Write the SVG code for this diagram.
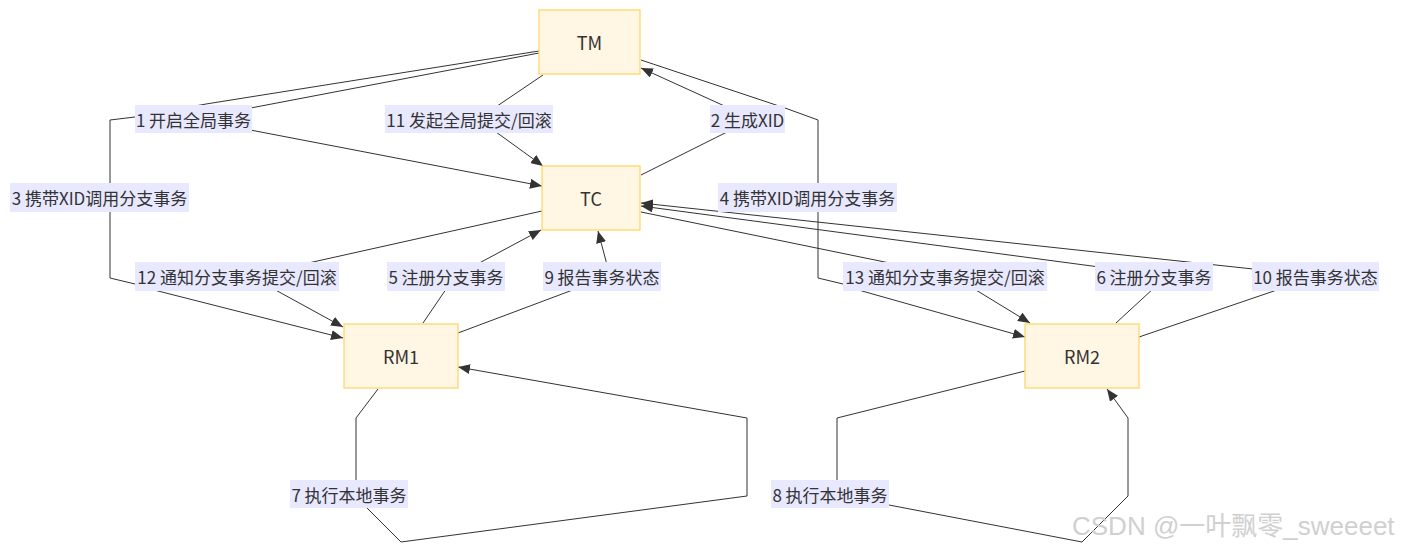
<svg xmlns="http://www.w3.org/2000/svg" width="1404" height="552" viewBox="0 0 1404 552">
<style>
  .node rect { fill: #fff6e3; stroke: #fdd868; stroke-width: 1.3; }
  .node text { font-family: "Noto Sans CJK SC", "Noto Sans", sans-serif; font-size: 18px; fill: #333; text-anchor: middle; dominant-baseline: central; }
  .edge { fill: none; stroke: #333; stroke-width: 1; }
  .lbl rect { fill: #e8e8ff; }
  .lbl text { font-family: "Noto Sans CJK SC", "Noto Sans", sans-serif; font-size: 17px; fill: #333; text-anchor: middle; dominant-baseline: central; }
  .wm { font-family: "Liberation Sans", "Noto Sans CJK SC", sans-serif; font-size: 26px; fill: #d0d0d0; }
</style>
<defs>
  <marker id="arr" viewBox="0 0 12 10" refX="12" refY="5" markerWidth="12" markerHeight="10" markerUnits="userSpaceOnUse" orient="auto">
    <path d="M0,0 L12,5 L0,10 z" fill="#333"/>
  </marker>
</defs>
<rect width="1404" height="552" fill="#fff"/>
<g id="connectors">
  <path class="edge" d="M539,53 L193,119 L542,186" marker-end="url(#arr)"/>
  <path class="edge" d="M539,51 L206,104 L135,117 L110,120 L110,278 L135,284 L158,291 L343,338" marker-end="url(#arr)"/>
  <path class="edge" d="M543,75 L478,119 L543,166" marker-end="url(#arr)"/>
  <path class="edge" d="M641,175 L753,119 L641,68" marker-end="url(#arr)"/>
  <path class="edge" d="M641,60 L785,108 L818,120 L818,278 L843,284 L862,291 L1025,337" marker-end="url(#arr)"/>
  <path class="edge" d="M542,211 L250,276 L343,327" marker-end="url(#arr)"/>
  <path class="edge" d="M423,323 L455,276 L541,230" marker-end="url(#arr)"/>
  <path class="edge" d="M458,333 L610,276 L598,231" marker-end="url(#arr)"/>
  <path class="edge" d="M378,389 L356,418 L356,494 L368,509 L401,542 L747,496 L747,418 L458,367" marker-end="url(#arr)"/>
  <path class="edge" d="M1025,371 L837,418 L837,494 L889,505 L1082,542 L1128,496 L1128,418 L1107,389" marker-end="url(#arr)"/>
  <path class="edge" d="M641,212 L953,276 L1030,323" marker-end="url(#arr)"/>
  <path class="edge" d="M1116,323 L1167,276 L641,206" marker-end="url(#arr)"/>
  <path class="edge" d="M1139,337 L1318,276 L641,203" marker-end="url(#arr)"/>
</g>
<g id="labels">
  <g class="lbl"><rect x="135" y="105" width="117" height="28"/><text x="193.5" y="119">1 开启全局事务</text></g>
  <g class="lbl"><rect x="385" y="105" width="168" height="28"/><text x="469" y="119">11 发起全局提交/回滚</text></g>
  <g class="lbl"><rect x="710" y="105" width="75" height="28"/><text x="747.5" y="119">2 生成XID</text></g>
  <g class="lbl"><rect x="10" y="183" width="179" height="29"/><text x="99.5" y="197.5">3 携带XID调用分支事务</text></g>
  <g class="lbl"><rect x="718" y="183" width="179" height="29"/><text x="807.5" y="197.5">4 携带XID调用分支事务</text></g>
  <g class="lbl"><rect x="135" y="262" width="204" height="29"/><text x="237" y="276.5">12 通知分支事务提交/回滚</text></g>
  <g class="lbl"><rect x="387" y="262" width="118" height="29"/><text x="446" y="276.5">5 注册分支事务</text></g>
  <g class="lbl"><rect x="543" y="262" width="118" height="29"/><text x="602" y="276.5">9 报告事务状态</text></g>
  <g class="lbl"><rect x="843" y="262" width="204" height="29"/><text x="945" y="276.5">13 通知分支事务提交/回滚</text></g>
  <g class="lbl"><rect x="1095" y="262" width="118" height="29"/><text x="1154" y="276.5">6 注册分支事务</text></g>
  <g class="lbl"><rect x="1252" y="262" width="127" height="29"/><text x="1315.5" y="276.5">10 报告事务状态</text></g>
  <g class="lbl"><rect x="290" y="480" width="118" height="28"/><text x="349" y="494">7 执行本地事务</text></g>
  <g class="lbl"><rect x="771" y="480" width="118" height="28"/><text x="830" y="494">8 执行本地事务</text></g>
</g>
<g id="TM" class="node"><rect x="539" y="10" width="101" height="64"/><text x="589.5" y="42">TM</text></g>
<g id="TC" class="node"><rect x="542" y="166" width="98" height="64"/><text x="591" y="198">TC</text></g>
<g id="RM1" class="node"><rect x="344" y="324" width="114" height="64"/><text x="401" y="356">RM1</text></g>
<g id="RM2" class="node"><rect x="1025" y="324" width="114" height="64"/><text x="1082" y="356">RM2</text></g>
<text class="wm" x="1072" y="535">CSDN @一叶飘零_sweeeet</text>
</svg>
